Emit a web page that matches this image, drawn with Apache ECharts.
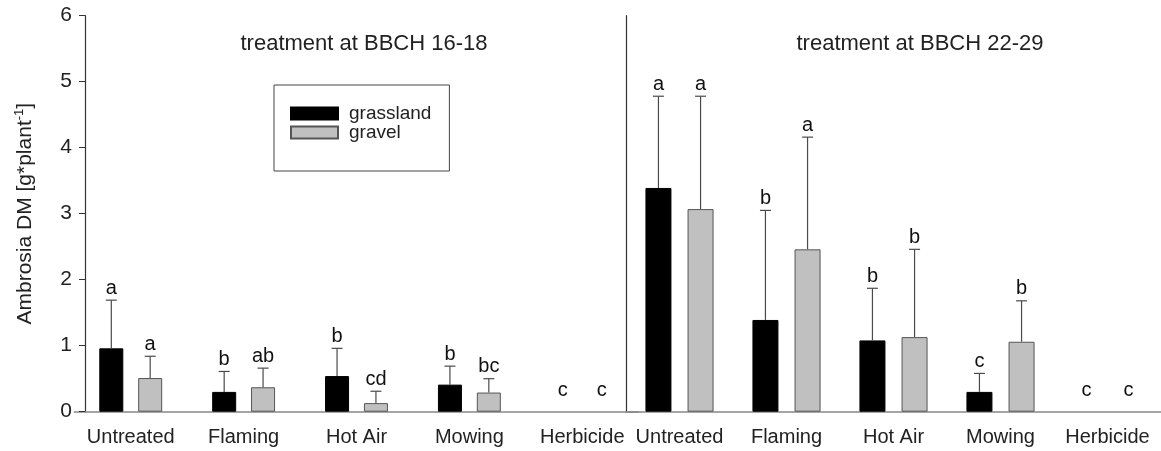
<!DOCTYPE html>
<html>
<head>
<meta charset="utf-8">
<script src="https://cdn.jsdelivr.net/npm/echarts@6/dist/echarts.min.js"></script>
<style>
  html, body { margin: 0; padding: 0; background: #fff; }
  #chart { width: 1161px; height: 451px; }
</style>
</head>
<body>
<div id="chart"></div>
<script>
// treatments on the x axis (same for both panels)
const categories = ['Untreated', 'Flaming', 'Hot Air', 'Mowing', 'Herbicide'];

// treatment at BBCH 16-18
const grassEarly = [0.96, 0.30, 0.54, 0.41, 0];
const grassEarlyErr = [0.73, 0.31, 0.42, 0.28, 0];
const grassEarlyLetters = ['a', 'b', 'b', 'b', 'c'];
const gravelEarly = [0.51, 0.37, 0.13, 0.29, 0];
const gravelEarlyErr = [0.33, 0.29, 0.18, 0.21, 0];
const gravelEarlyLetters = ['a', 'ab', 'cd', 'bc', 'c'];

// treatment at BBCH 22-29
const grassLate = [3.39, 1.39, 1.08, 0.30, 0];
const grassLateErr = [1.39, 1.66, 0.79, 0.28, 0];
const grassLateLetters = ['a', 'b', 'b', 'c', 'c'];
const gravelLate = [3.07, 2.46, 1.13, 1.06, 0];
const gravelLateErr = [1.71, 1.70, 1.33, 0.62, 0];
const gravelLateLetters = ['a', 'a', 'b', 'b', 'c'];

const FONT = '"Liberation Sans", Arial, sans-serif';
const leftBarW = 24, rightBarW = 26, gapPct = 0.62;

// error bar + significance letter, drawn at the bar's offset inside the category
function errorSeries(name, gridIdx, values, errs, letters, barW, side) {
  const shift = side * (barW + barW * gapPct) / 2;
  return {
    name: name + '-err',
    type: 'custom',
    xAxisIndex: gridIdx,
    yAxisIndex: gridIdx,
    z: 5,
    silent: true,
    clip: false,
    data: values.map((v, i) => [i, v, errs[i]]),
    renderItem: function (params, api) {
      const i = api.value(0), v = api.value(1), e = api.value(2);
      const base = api.coord([i, v]);
      const top = api.coord([i, v + e]);
      const x = base[0] + shift;
      const children = [];
      if (e > 0) {
        children.push({ type: 'line', shape: { x1: x, y1: base[1], x2: x, y2: top[1] },
          style: { stroke: '#4a4a4a', lineWidth: 1.2 } });
        children.push({ type: 'line', shape: { x1: x - 5.5, y1: top[1], x2: x + 5.5, y2: top[1] },
          style: { stroke: '#4a4a4a', lineWidth: 1.2 } });
      }
      const ly = top[1] - 2 - (v === 0 && e === 0 ? 9 : 0);
      children.push({ type: 'text', style: {
        text: letters[params.dataIndex], x: x, y: ly,
        textAlign: 'center', align: 'center', textVerticalAlign: 'bottom', verticalAlign: 'bottom',
        font: '20px ' + FONT, fill: '#111' } });
      return { type: 'group', children: children };
    }
  };
}

function barSeries(name, gridIdx, values, barW) {
  const gray = name === 'gravel';
  return {
    name: name,
    type: 'bar',
    xAxisIndex: gridIdx,
    yAxisIndex: gridIdx,
    barWidth: barW,
    barGap: (gapPct * 100) + '%',
    itemStyle: {
      color: gray ? '#c0c0c0' : '#000',
      borderColor: gray ? '#555' : '#000',
      borderWidth: 1
    },
    // zero bars are not drawn at all in the figure
    data: values.map(v => v === 0 ? { value: 0, itemStyle: { borderWidth: 0, opacity: 0 } } : v)
  };
}

function xAxis(gridIdx) {
  return {
    type: 'category',
    gridIndex: gridIdx,
    data: categories,
    axisLine: { lineStyle: { color: '#888', width: 1.5 } },
    axisTick: { alignWithLabel: true, length: 6, lineStyle: { color: '#777' } },
    axisLabel: { interval: 0, fontFamily: FONT, fontSize: 20, color: '#222', margin: 16 }
  };
}

const chart = echarts.init(document.getElementById('chart'));
chart.setOption({
  animation: false,
  backgroundColor: '#fff',
  title: [
    { text: 'treatment at BBCH 16-18', left: 359, top: 28, textAlign: 'center',
      textStyle: { fontFamily: FONT, fontSize: 22, fontWeight: 'normal', color: '#222' } },
    { text: 'treatment at BBCH 22-29', left: 915, top: 28, textAlign: 'center',
      textStyle: { fontFamily: FONT, fontSize: 22, fontWeight: 'normal', color: '#222' } }
  ],
  legend: {
    data: ['grassland', 'gravel'],
    orient: 'vertical',
    left: 274,
    top: 85,
    padding: [19, 18, 29, 16],
    borderColor: '#444',
    borderWidth: 1,
    itemWidth: 47,
    itemHeight: 12,
    itemGap: 0,
    icon: 'rect',
    textStyle: { fontFamily: FONT, fontSize: 19, lineHeight: 18, color: '#222', padding: [0, 0, 0, 6] }
  },
  grid: [
    { left: 74.3, top: 15.7, width: 564.4, height: 396 },
    { left: 626, top: 15.7, width: 541, height: 396 }
  ],
  xAxis: [xAxis(0), xAxis(1)],
  yAxis: [
    {
      type: 'value', gridIndex: 0, min: 0, max: 6, interval: 1, offset: -10.7,
      name: '{n|Ambrosia DM [g*plant}{s|-1}{n|]}',
      nameLocation: 'middle', nameGap: 48, nameRotate: 90,
      nameTextStyle: {
        rich: {
          n: { fontFamily: FONT, fontSize: 21, color: '#222', lineHeight: 24 },
          s: { fontFamily: FONT, fontSize: 13, color: '#222', lineHeight: 24, verticalAlign: 'top' }
        }
      },
      axisLine: { show: true, lineStyle: { color: '#333', width: 1.2 } },
      axisTick: { show: true, length: 6, lineStyle: { color: '#333' } },
      axisLabel: { fontFamily: FONT, fontSize: 21, color: '#222', margin: 13 },
      splitLine: { show: false }
    },
    {
      type: 'value', gridIndex: 1, min: 0, max: 6, interval: 1,
      axisLine: { show: true, lineStyle: { color: '#333', width: 1.2 } },
      axisTick: { show: false },
      axisLabel: { show: false },
      splitLine: { show: false }
    }
  ],
  series: [
    barSeries('grassland', 0, grassEarly, leftBarW),
    barSeries('gravel', 0, gravelEarly, leftBarW),
    barSeries('grassland', 1, grassLate, rightBarW),
    barSeries('gravel', 1, gravelLate, rightBarW),
    errorSeries('grassland-early', 0, grassEarly, grassEarlyErr, grassEarlyLetters, leftBarW, -1),
    errorSeries('gravel-early', 0, gravelEarly, gravelEarlyErr, gravelEarlyLetters, leftBarW, 1),
    errorSeries('grassland-late', 1, grassLate, grassLateErr, grassLateLetters, rightBarW, -1),
    errorSeries('gravel-late', 1, gravelLate, gravelLateErr, gravelLateLetters, rightBarW, 1)
  ]
});
</script>
</body>
</html>
